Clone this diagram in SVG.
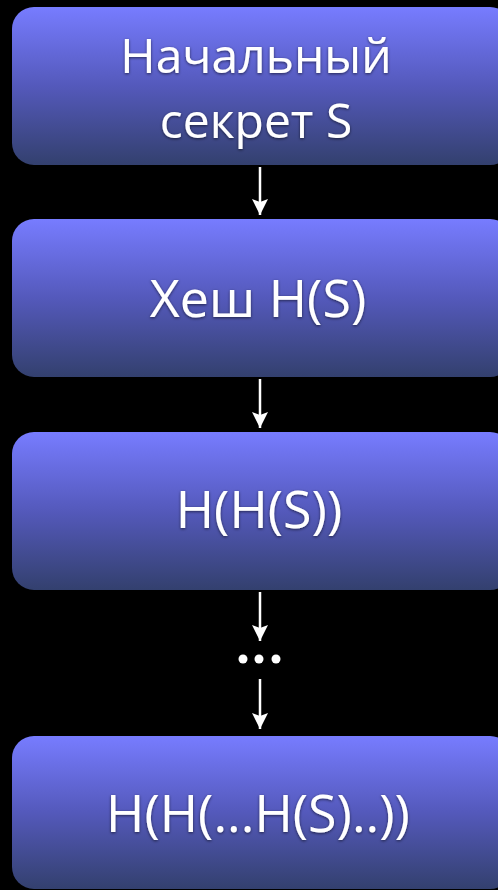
<svg xmlns="http://www.w3.org/2000/svg" width="498" height="890" viewBox="0 0 498 890">
<defs>
<linearGradient id="g" x1="0" y1="0" x2="0" y2="1">
<stop offset="0" stop-color="#777cff"/>
<stop offset="0.5" stop-color="#5459bb"/>
<stop offset="1" stop-color="#33406e"/>
</linearGradient>
<marker id="ah" markerWidth="16" markerHeight="16" viewBox="0 0 16 16" refX="16" refY="8" orient="auto" markerUnits="userSpaceOnUse">
<path d="M0,0 L16,8 L0,16 L3,8 z" fill="#fff"/>
</marker>
<filter id="sh" x="-10%" y="-20%" width="120%" height="140%">
<feGaussianBlur in="SourceAlpha" stdDeviation="1.5"/>
<feOffset dy="1" result="b"/>
<feFlood flood-color="#000" flood-opacity="0.6"/>
<feComposite in2="b" operator="in"/>
<feMerge><feMergeNode/><feMergeNode in="SourceGraphic"/></feMerge>
</filter>
</defs>
<style>
.box{fill:url(#g)}
.t{fill:#fff;font-family:"Open Sans","DejaVu Sans",sans-serif;font-size:52px;text-anchor:middle;filter:url(#sh)}
.s{font-size:48px}
.c{stroke:#fff;stroke-width:2.5;fill:none;marker-end:url(#ah)}
</style>
<rect width="498" height="890" fill="#000"/>
<g id="n1"><rect class="box" x="12" y="7" width="500" height="158" rx="22"/><text class="t s" x="256" y="73">Начальный</text><text class="t s" x="256" y="138">секрет S</text></g>
<g id="n2"><rect class="box" x="12" y="219" width="500" height="158" rx="22"/><text class="t" x="258" y="317">Хеш H(S)</text></g>
<g id="n3"><rect class="box" x="12" y="432" width="500" height="158" rx="22"/><text class="t" x="259" y="528">H(H(S))</text></g>
<g id="n4"><rect class="box" x="12" y="736" width="500" height="153" rx="22"/><text class="t" x="258" y="832">H(H(...H(S)..))</text></g>
<g id="connectors">
<line class="c" x1="260" y1="167" x2="260" y2="215"/>
<line class="c" x1="260" y1="379" x2="260" y2="428"/>
<line class="c" x1="260" y1="592" x2="260" y2="641"/>
<line class="c" x1="260" y1="679" x2="260" y2="729"/>
<circle cx="243" cy="659" r="4.5" fill="#fff"/><circle cx="259" cy="659" r="4.5" fill="#fff"/><circle cx="276" cy="659" r="4.5" fill="#fff"/>
</g>
</svg>
